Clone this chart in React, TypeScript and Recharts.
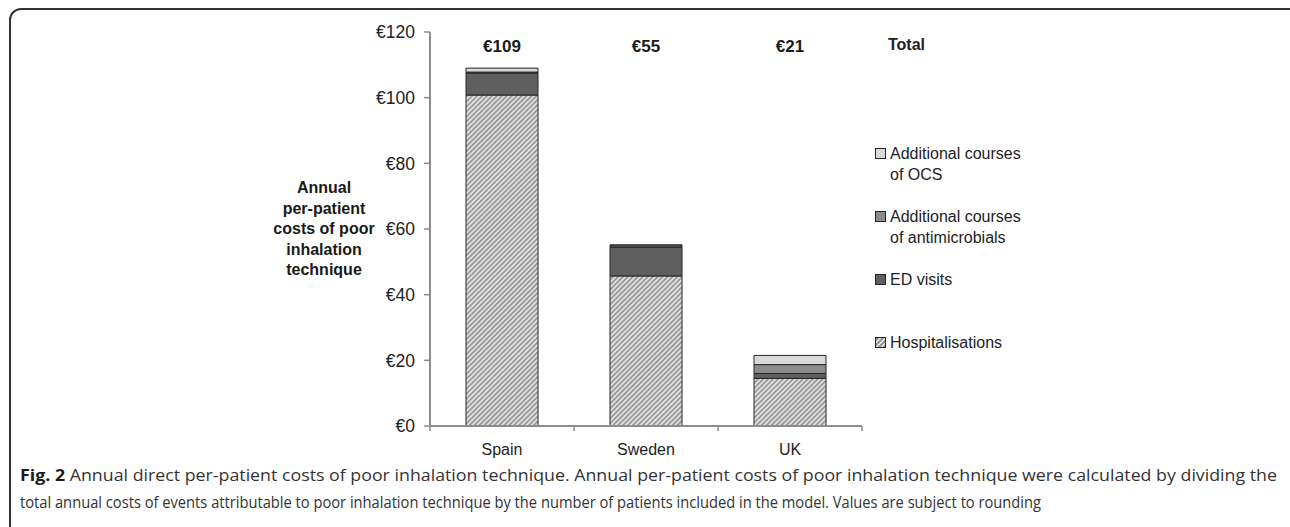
import React from "react";
import { BarChart, Bar, XAxis, YAxis, LabelList } from "recharts";

const countries = ["Spain", "Sweden", "UK"];
const hospitalisations = [100.8, 45.7, 14.5];
const edVisits = [6.7, 8.8, 1.5];
const antimicrobials = [0.3, 0.4, 2.7];
const ocs = [1.2, 0.3, 2.8];
const totals = ["€109", "€55", "€21"];
const yTicks = [0, 20, 40, 60, 80, 100, 120];
const yLabelLines = ["Annual", "per-patient", "costs of poor", "inhalation", "technique"];
const captionLead = "Fig. 2";
const captionLines = [
    "Annual direct per-patient costs of poor inhalation technique. Annual per-patient costs of poor inhalation technique were calculated by dividing the",
    "total annual costs of events attributable to poor inhalation technique by the number of patients included in the model. Values are subject to rounding",
];

const data = countries.map((c, i) => ({
    country: c,
    hosp: hospitalisations[i],
    ed: edVisits[i],
    anti: antimicrobials[i],
    ocs: ocs[i],
    total: totals[i],
}));

// legend is listed top to bottom, like the original
const legendItems = [
    { lines: ["Additional courses", "of OCS"], fill: "#d9d9d9" },
    { lines: ["Additional courses", "of antimicrobials"], fill: "#8c8c8c" },
    { lines: ["ED visits"], fill: "#5f5f5f" },
    { lines: ["Hospitalisations"], fill: "hatch" },
];

const FONT = "'Liberation Sans', Arial, sans-serif";
const CAP_FONT = "'Open Sans', sans-serif";
const AXIS = "#8c8c8c";
const EDGE = "#262626";

const hatchCss =
    "repeating-linear-gradient(-45deg, #999 0px, #999 2px, #e6e6e6 2px, #e6e6e6 3.5px)";

const ChartLegend = () => (
    <div style={{ position: "absolute", left: 870, top: 0, fontFamily: FONT, color: "#222" }}>
        <div
            style={{
                position: "absolute",
                left: 18,
                top: 36,
                fontWeight: "bold",
                fontSize: 16,
            }}
        >
            Total
        </div>
        <div style={{ position: "absolute", left: 5, top: 143 }}>
            {legendItems.map((it) => (
                <div key={it.lines.join(" ")} style={{ display: "flex", height: 63 }}>
                    <div
                        style={{
                            width: 9,
                            height: 9,
                            marginTop: 5,
                            marginRight: 4,
                            border: `1px solid ${EDGE}`,
                            background: it.fill === "hatch" ? hatchCss : it.fill,
                        }}
                    />
                    <div style={{ fontSize: 16, lineHeight: "21px", whiteSpace: "nowrap" }}>
                        {it.lines.map((l) => (
                            <div key={l}>{l}</div>
                        ))}
                    </div>
                </div>
            ))}
        </div>
    </div>
);

const CategoryTick = (props: any) => {
    const { x, y, payload, index } = props;
    const half = payload && payload.offset ? payload.offset : 72;
    return (
        <g>
            {index === 0 && (
                <line x1={x - half} y1={y - 8} x2={x - half} y2={y - 3} stroke={AXIS} strokeWidth={1.5} />
            )}
            <line x1={x + half} y1={y - 8} x2={x + half} y2={y - 3} stroke={AXIS} strokeWidth={1.5} />
            <text x={x} y={y + 21} textAnchor="middle" fontFamily={FONT} fontSize={16} fill="#222">
                {payload.value}
            </text>
        </g>
    );
};

const YTitle = (props: any) => {
    const vb = props.viewBox || {};
    const cy = vb.y + vb.height / 2;
    return (
        <text textAnchor="middle" fontFamily={FONT} fontSize={16} fontWeight="bold" fill="#1a1a1a">
            {yLabelLines.map((l, i) => (
                <tspan key={l} x={324} y={cy - 36 + i * 20.5}>
                    {l}
                </tspan>
            ))}
        </text>
    );
};

const TotalLabel = (props: any) => {
    const { x, width, value } = props;
    return (
        <text
            x={x + width / 2}
            y={52}
            textAnchor="middle"
            fontFamily={FONT}
            fontSize={17}
            fontWeight="bold"
            fill="#1a1a1a"
        >
            {value}
        </text>
    );
};

// caption set in a condensed look: each line squeezed to the width it has in the figure
const Caption = () => (
    <svg style={{ position: "absolute", left: 0, top: 460 }} width={1290} height={67}>
        <g fontFamily={CAP_FONT} fontSize={16.5} fill="#333">
            <text x={20} y={21} textLength={1257} lengthAdjust="spacingAndGlyphs">
                <tspan fontWeight="bold" fill="#1a1a1a">
                    {captionLead}
                </tspan>{" "}
                {captionLines[0]}
            </text>
            <text x={20} y={48} textLength={1021} lengthAdjust="spacingAndGlyphs">
                {captionLines[1]}
            </text>
        </g>
    </svg>
);

export default function App() {
    return (
        <div style={{ position: "relative", width: 1290, height: 527, overflow: "hidden", background: "#fff" }}>
            <style>{`body{margin:0;overflow:hidden}`}</style>
            <div
                style={{
                    position: "absolute",
                    left: 9,
                    top: 8,
                    width: 1300,
                    height: 540,
                    border: "2px solid #333",
                    borderRadius: 12,
                    boxSizing: "border-box",
                }}
            />
            <div style={{ position: "absolute", left: 0, top: 0 }}>
                <BarChart
                    width={1290}
                    height={470}
                    data={data}
                    barSize={72}
                    margin={{ top: 32, right: 428, bottom: 0, left: 0 }}
                >
                    <defs>
                        <pattern
                            id="hatch"
                            width={3.5}
                            height={3.5}
                            patternUnits="userSpaceOnUse"
                            patternTransform="rotate(45)"
                        >
                            <rect width={3.5} height={3.5} fill="#9a9a9a" />
                            <line x1={1} y1={0} x2={1} y2={3.5} stroke="#ececec" strokeWidth={1.5} />
                        </pattern>
                    </defs>
                    <XAxis
                        dataKey="country"
                        height={44}
                        axisLine={{ stroke: AXIS, strokeWidth: 2 }}
                        tickLine={false}
                        tick={<CategoryTick />}
                        interval={0}
                    />
                    <YAxis
                        width={430}
                        domain={[0, 120]}
                        ticks={yTicks}
                        interval={0}
                        tickFormatter={(v) => `€${v}`}
                        axisLine={{ stroke: AXIS, strokeWidth: 2 }}
                        tickLine={{ stroke: AXIS, strokeWidth: 1.5 }}
                        tickSize={6}
                        tickMargin={9}
                        tick={{ fontFamily: FONT, fontSize: 17.5, fill: "#222" }}
                        label={<YTitle />}
                    />
                    <Bar dataKey="hosp" stackId="s" fill="url(#hatch)" stroke={EDGE} strokeWidth={1} isAnimationActive={false} />
                    <Bar dataKey="ed" stackId="s" fill="#5f5f5f" stroke={EDGE} strokeWidth={1} isAnimationActive={false} />
                    <Bar dataKey="anti" stackId="s" fill="#8c8c8c" stroke={EDGE} strokeWidth={1} isAnimationActive={false} />
                    <Bar dataKey="ocs" stackId="s" fill="#d9d9d9" stroke={EDGE} strokeWidth={1} isAnimationActive={false}>
                        <LabelList dataKey="total" content={<TotalLabel />} />
                    </Bar>
                </BarChart>
            </div>
            <ChartLegend />
            <Caption />
        </div>
    );
}
